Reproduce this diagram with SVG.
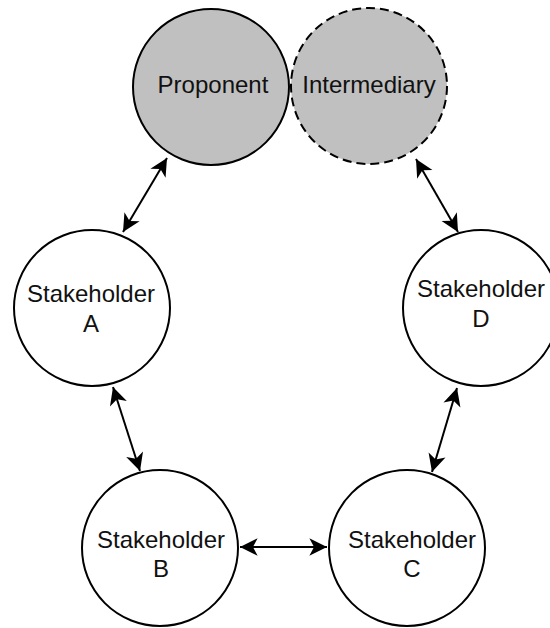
<svg xmlns="http://www.w3.org/2000/svg" width="550" height="628" viewBox="0 0 550 628">
  <style>
    .node { stroke: #000; stroke-width: 2; fill: #fff; }
    .shaded { fill: #c0c0c0; }
    .dashed { stroke-dasharray: 9 5; }
    .label { font-family: "Liberation Sans", Arial, sans-serif; font-size: 24px; fill: #111; text-anchor: middle; }
    .link { stroke: #000; stroke-width: 2; fill: none; marker-start: url(#arrow); marker-end: url(#arrow); }
  </style>
  <defs>
    <marker id="arrow" markerUnits="userSpaceOnUse" markerWidth="20" markerHeight="20" viewBox="-16 -8 17 16" refX="0" refY="0" orient="auto-start-reverse" overflow="visible">
      <path d="M 0 0 L -15 -7.5 L -11 0 L -15 7.5 Z" fill="#000"/>
    </marker>
  </defs>

  <rect width="550" height="628" fill="#fff"/>

  <g id="connectors">
    <line class="link" x1="167" y1="158" x2="123" y2="232"/>
    <line class="link" x1="416" y1="159" x2="458" y2="232"/>
    <line class="link" x1="113" y1="387" x2="140" y2="471"/>
    <line class="link" x1="457" y1="388" x2="432" y2="472"/>
    <line class="link" x1="240" y1="547" x2="327" y2="547"/>
  </g>

  <g id="proponent">
    <circle class="node shaded" cx="211" cy="87" r="78"/>
    <text class="label" x="213" y="93">Proponent</text>
  </g>

  <g id="intermediary">
    <circle class="node shaded dashed" cx="369" cy="86" r="78"/>
    <text class="label" x="369" y="93">Intermediary</text>
  </g>

  <g id="stakeholder-a">
    <circle class="node" cx="92" cy="308" r="78"/>
    <text class="label" x="91" y="302">Stakeholder</text>
    <text class="label" x="91" y="332">A</text>
  </g>

  <g id="stakeholder-d">
    <circle class="node" cx="481" cy="308" r="78"/>
    <text class="label" x="481" y="297">Stakeholder</text>
    <text class="label" x="481" y="327">D</text>
  </g>

  <g id="stakeholder-b">
    <circle class="node" cx="160" cy="548" r="78"/>
    <text class="label" x="161" y="548">Stakeholder</text>
    <text class="label" x="161" y="577">B</text>
  </g>

  <g id="stakeholder-c">
    <circle class="node" cx="407" cy="548" r="78"/>
    <text class="label" x="412" y="548">Stakeholder</text>
    <text class="label" x="412" y="577">C</text>
  </g>
</svg>
